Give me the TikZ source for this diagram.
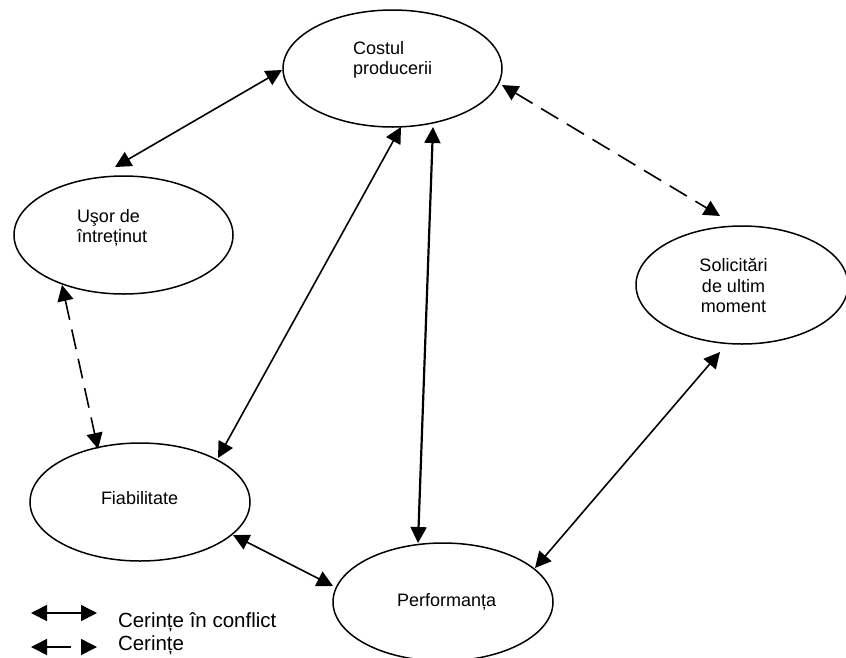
\documentclass[tikz,border=0pt]{standalone}
\usepackage{fontspec}
\setmainfont{Liberation Sans}
\usetikzlibrary{arrows.meta,shapes.geometric}
\tikzset{
  goal/.style={draw=black,ellipse,line width=1.5pt,inner sep=0pt,outer sep=0pt},
  txt/.style={inner sep=0pt,outer sep=0pt,align=left,font=\fontsize{18}{20.5}\selectfont,text=black},
  legtxt/.style={inner sep=0pt,outer sep=0pt,anchor=base west,font=\fontsize{20.5}{24}\selectfont,text=black},
  conflict/.style={{Triangle[length=16pt,width=16pt]}-{Triangle[length=16pt,width=16pt]},line width=1.6pt},
  req/.style={conflict,dash pattern=on 20pt off 10pt},
  pt/.style={inner sep=0pt}
}
\begin{document}
\begin{tikzpicture}[x=1pt,y=-1pt]
\clip (0,0) rectangle (846,657);
\fill[white] (0,0) rectangle (846,657);
% ellipses
\node[goal,minimum width=219pt,minimum height=117pt] (cost) at (392.5,68.5) {};
\node[goal,minimum width=219pt,minimum height=118pt] (usor) at (123.5,235) {};
\node[goal,minimum width=212pt,minimum height=118pt] (sol) at (742,285) {};
\node[goal,minimum width=220pt,minimum height=118pt] (fiab) at (140,502) {};
\node[goal,minimum width=220pt,minimum height=118pt] (perf) at (443,602) {};
% texts
\node[txt,anchor=west] (tcost) at (353,60) {Costul\\producerii};
\node[txt,anchor=west] (tusor) at (77,228) {Uşor de\\întreținut};
\node[txt,anchor=center,align=center] (tsol) at (733.5,285.5) {Solicitări\\de ultim\\ moment};
\node[txt,anchor=base west] (tfiab) at (101,504) {Fiabilitate};
\node[txt,anchor=base west] (tperf) at (397,606) {Performanța};
\node[legtxt] (l1) at (118,627) {Cerințe în conflict};
\node[legtxt] (l2) at (118,650) {Cerințe};
% connector ends
\coordinate (a1) at (282,70);   \coordinate (a2) at (115,167);
\coordinate (b1) at (401,127);  \coordinate (b2) at (218,458);
\coordinate (c1) at (433,127);  \coordinate (c2) at (418,543);
\coordinate (d1) at (502,85);   \coordinate (d2) at (720,216);
\coordinate (e1) at (720,352);  \coordinate (e2) at (535,568);
\coordinate (f1) at (233,535);  \coordinate (f2) at (333,586);
\coordinate (g1) at (62,285);   \coordinate (g2) at (98,449);
\coordinate (k1) at (31,613);   \coordinate (k2) at (97,613);
\coordinate (m1) at (31,647);   \coordinate (m2) at (97,647);
% connectors
\draw[conflict] (a1) -- (a2);
\draw[conflict] (b1) -- (b2);
\draw[conflict,line width=2.2pt] (c1) -- (c2);
\draw[req] (d1) -- (d2);
\draw[conflict] (e1) -- (e2);
\draw[conflict] (f1) -- (f2);
\draw[req] (g1) -- (g2);
\draw[conflict] (k1) -- (k2);
\draw[conflict,dash pattern=on 24pt off 10pt on 13pt off 6pt] (m1) -- (m2);
\end{tikzpicture}
\end{document}
